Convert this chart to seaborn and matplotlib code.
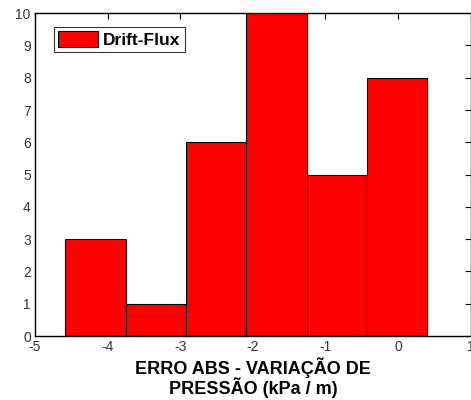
import numpy as np
import pandas as pd
import matplotlib
matplotlib.use('Agg')
import matplotlib.pyplot as plt
import seaborn as sns

# Histogram data
bin_edges = [-4.58, -3.75, -2.92, -2.09, -1.26, -0.43, 0.40]
counts = [3, 1, 6, 10, 5, 8]
x_ticks = [-5, -4, -3, -2, -1, 0, 1]
y_ticks = list(range(0, 11))
series_label = 'Drift-Flux'
x_label = 'ERRO ABS - VARIAÇÃO DE\nPRESSÃO (kPa / m)'

sns.set_style('white')
plt.rcParams['font.family'] = ['Liberation Sans', 'DejaVu Sans']

centers = [(a + b) / 2 for a, b in zip(bin_edges[:-1], bin_edges[1:])]
df = pd.DataFrame({'erro': centers, 'n': counts})

fig = plt.figure(figsize=(4.71, 4.0), dpi=100)
ax = fig.add_axes([0.0743, 0.16, 0.925, 0.807])

sns.histplot(data=df, x='erro', weights='n', bins=bin_edges, ax=ax,
             color='#ff0000', alpha=1, edgecolor='black', linewidth=0.8,
             label=series_label)

ax.set_xlim(-5, 1)
ax.set_ylim(0, 10)
ax.set_xticks(x_ticks)
ax.set_yticks(y_ticks)
ax.set_xticklabels([str(t) for t in x_ticks])
ax.set_yticklabels([str(t) for t in y_ticks])
ax.tick_params(direction='in', top=True, right=True, length=4, width=0.8,
               labelsize=10, colors='black', labelcolor='#333333', pad=3)
for s in ax.spines.values():
    s.set_color('black')
    s.set_linewidth(1.0)
ax.set_ylabel('')
ax.set_xlabel(x_label, fontsize=13, fontweight='bold', color='black',
              labelpad=2, linespacing=1.0)

leg = ax.legend(loc='upper left', bbox_to_anchor=(0.043, 0.958), frameon=True,
                fancybox=False, shadow=False, prop={'weight': 'bold', 'size': 12.5},
                handlelength=2.3, handleheight=1.0, borderpad=0.25,
                handletextpad=0.3, borderaxespad=0)
leg.get_frame().set_edgecolor('black')
leg.get_frame().set_linewidth(0.8)
for t in leg.get_texts():
    t.set_color('black')

fig.savefig('out.png', dpi=100)
